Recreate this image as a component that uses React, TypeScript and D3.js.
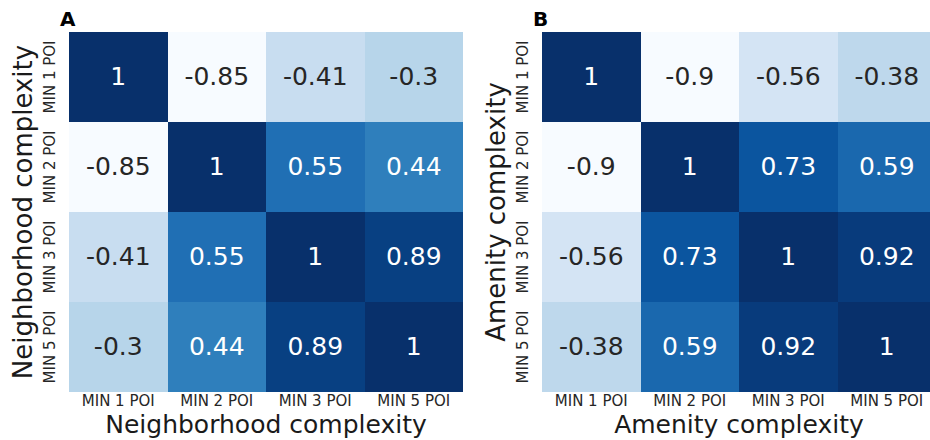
import React from "react";
import * as d3 from "d3";

const categories = ["MIN 1 POI", "MIN 2 POI", "MIN 3 POI", "MIN 5 POI"];
const neighborhoodCorr = [
  [1, -0.85, -0.41, -0.3],
  [-0.85, 1, 0.55, 0.44],
  [-0.41, 0.55, 1, 0.89],
  [-0.3, 0.44, 0.89, 1],
];
const amenityCorr = [
  [1, -0.9, -0.56, -0.38],
  [-0.9, 1, 0.73, 0.59],
  [-0.56, 0.73, 1, 0.92],
  [-0.38, 0.59, 0.92, 1],
];
const panelLetters = ["A", "B"];
const axisTitles = ["Neighborhood complexity", "Amenity complexity"];

const BLUES = ["#f7fbff", "#deebf7", "#c6dbef", "#9ecae1", "#6baed6", "#4292c6", "#2171b5", "#08519c", "#08306b"];
const bluesScale = d3
  .scaleLinear<string>()
  .domain(BLUES.map((_, i) => i / (BLUES.length - 1)))
  .range(BLUES)
  .interpolate(d3.interpolateRgb)
  .clamp(true);

function luminance(c: string) {
  const rgb = d3.rgb(c);
  const f = (v: number) => {
    const s = v / 255;
    return s <= 0.03928 ? s / 12.92 : Math.pow((s + 0.055) / 1.055, 2.4);
  };
  return 0.2126 * f(rgb.r) + 0.7152 * f(rgb.g) + 0.0722 * f(rgb.b);
}

const FONT = "DejaVu Sans";

function Heatmap({ data, x0, letter, title }: { data: number[][]; x0: number; letter: string; title: string }) {
  const W = 394;
  const top = 32;
  const H = 360;
  const x = d3.scaleBand<string>().domain(categories).range([x0, x0 + W]);
  const y = d3.scaleBand<string>().domain(categories).range([top, top + H]);
  const flat = data.flat();
  const norm = d3.scaleLinear().domain([d3.min(flat)!, d3.max(flat)!]).range([0, 1]);
  return (
    <g>
      {data.map((row, i) =>
        row.map((v, j) => {
          const col = bluesScale(norm(v));
          const txt = luminance(col) > 0.408 ? "#262626" : "#ffffff";
          const cx = x(categories[j])! + x.bandwidth() / 2;
          const cy = y(categories[i])! + y.bandwidth() / 2;
          return (
            <g key={`${i}-${j}`}>
              <rect
                x={x(categories[j])}
                y={y(categories[i])}
                width={x.bandwidth()}
                height={y.bandwidth()}
                fill={col}
                shapeRendering="crispEdges"
              />
              <text x={cx} y={cy + 8} textAnchor="middle" fontFamily={FONT} fontSize={25} fill={txt}>
                {String(v)}
              </text>
            </g>
          );
        })
      )}
      {categories.map((c) => (
        <text
          key={"xt" + c}
          x={x(c)! + x.bandwidth() / 2}
          y={406}
          textAnchor="middle"
          fontFamily={FONT}
          fontSize={15}
          fill="#262626"
        >
          {c}
        </text>
      ))}
      {categories.map((c) => {
        const cy = y(c)! + y.bandwidth() / 2;
        const bx = x0 - 14;
        return (
          <text
            key={"yt" + c}
            transform={`translate(${bx},${cy}) rotate(-90)`}
            textAnchor="middle"
            fontFamily={FONT}
            fontSize={15}
            fill="#262626"
          >
            {c}
          </text>
        );
      })}
      <text x={x0 + W / 2} y={433} textAnchor="middle" fontFamily={FONT} fontSize={25} fill="#1a1a1a">
        {title}
      </text>
      <text
        transform={`translate(${x0 - 37},${top + H / 2}) rotate(-90)`}
        textAnchor="middle"
        fontFamily={FONT}
        fontSize={26}
        fill="#1a1a1a"
      >
        {title}
      </text>
      <text x={x0 - 9} y={26} fontFamily={FONT} fontSize={20} fontWeight="bold" fill="#000">
        {letter}
      </text>
    </g>
  );
}

export default function App() {
  return (
    <svg
      width={930}
      height={440}
      style={{ position: "absolute", left: 0, top: 0, background: "#fff" }}
    >
      <rect width={930} height={440} fill="#fff" />
      <Heatmap data={neighborhoodCorr} x0={69} letter={panelLetters[0]} title={axisTitles[0]} />
      <Heatmap data={amenityCorr} x0={542} letter={panelLetters[1]} title={axisTitles[1]} />
    </svg>
  );
}
